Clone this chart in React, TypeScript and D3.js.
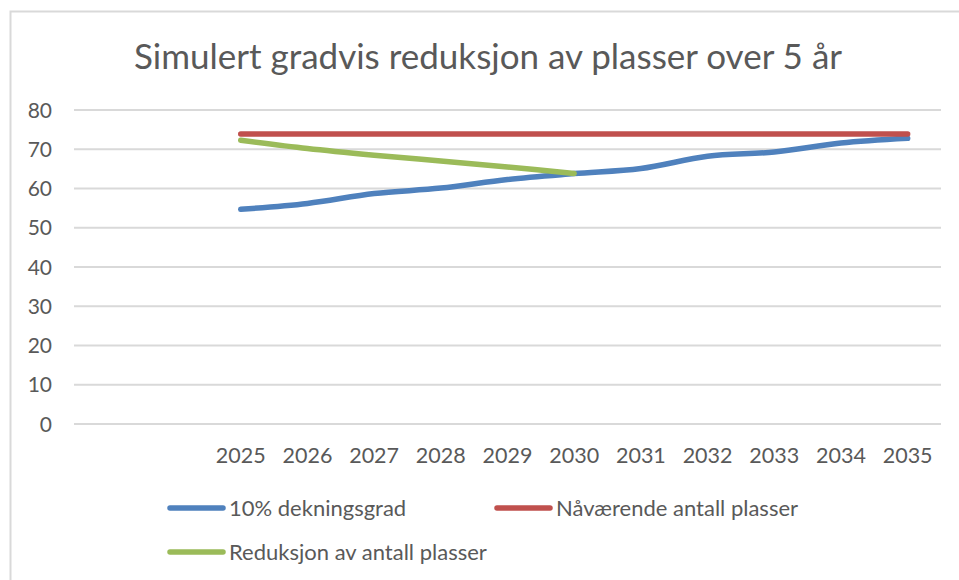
import * as d3 from "d3";
import React, { useRef, useEffect } from "react";

const categories = ["", " ", "2025", "2026", "2027", "2028", "2029", "2030", "2031", "2032", "2033", "2034", "2035"];
const years = ["2025", "2026", "2027", "2028", "2029", "2030", "2031", "2032", "2033", "2034", "2035"];
const dekningsgrad = [54.7, 56.2, 58.7, 60.1, 62.3, 63.8, 65.1, 68.2, 69.3, 71.6, 72.8];
const navaerende = [73.9, 73.9, 73.9, 73.9, 73.9, 73.9, 73.9, 73.9, 73.9, 73.9, 73.9];
const reduksjon = [72.3, 70.2, 68.5, 67.0, 65.5, 63.8];
const yTicks = [0, 10, 20, 30, 40, 50, 60, 70, 80];

const series = [
  { name: "10% dekningsgrad", color: "#4f81bd", values: dekningsgrad },
  { name: "Nåværende antall plasser", color: "#c0504d", values: navaerende },
  { name: "Reduksjon av antall plasser", color: "#9bbb59", values: reduksjon },
];

const width = 959;
const height = 580;
const margin = { top: 110, bottom: 156, left: 74, right: 18 };
const font = "Lato, 'Open Sans', sans-serif";
const textColor = "#595959";

function LineChart() {
  const ref = useRef<SVGSVGElement>(null);

  useEffect(() => {
    draw();
  }, []);

  const draw = () => {
    const svg = d3.select(ref.current);
    svg.selectAll("*").remove();
    const innerWidth = width - margin.left - margin.right;
    const innerHeight = height - margin.top - margin.bottom;

    // chart frame (only top and left edges are visible in the crop)
    svg.append("path")
      .attr("d", `M10.5,${height} V11.5 H${width}`)
      .attr("fill", "none")
      .attr("stroke", "#d9d9d9")
      .attr("stroke-width", 2);

    svg.append("text")
      .attr("x", 488)
      .attr("y", 69)
      .attr("text-anchor", "middle")
      .attr("fill", textColor)
      .style("font-family", font)
      .style("font-size", "35px")
      .text("Simulert gradvis reduksjon av plasser over 5 år");

    const chart = svg.append("g").attr("transform", `translate(${margin.left},${margin.top})`);

    const xScale = d3.scaleBand().domain(categories).range([0, innerWidth]);
    const yScale = d3.scaleLinear().domain([0, 80]).range([innerHeight, 0]);
    const xPos = (c: string) => (xScale(c) as number) + xScale.bandwidth() / 2;

    chart.selectAll(".grid")
      .data(yTicks)
      .join("line")
      .classed("grid", true)
      .attr("x1", 0)
      .attr("x2", innerWidth)
      .attr("y1", (d) => yScale(d))
      .attr("y2", (d) => yScale(d))
      .attr("stroke", "#d9d9d9")
      .attr("stroke-width", 2);

    chart.selectAll(".y-label")
      .data(yTicks)
      .join("text")
      .classed("y-label", true)
      .attr("x", -22)
      .attr("y", (d) => yScale(d))
      .attr("dy", "0.36em")
      .attr("text-anchor", "end")
      .attr("fill", textColor)
      .style("font-family", font)
      .style("font-size", "21px")
      .text((d) => d);

    chart.selectAll(".x-label")
      .data(categories)
      .join("text")
      .classed("x-label", true)
      .attr("x", (d) => xPos(d))
      .attr("y", innerHeight + 31)
      .attr("dy", "0.36em")
      .attr("text-anchor", "middle")
      .attr("fill", textColor)
      .style("font-family", font)
      .style("font-size", "21.5px")
      .text((d) => d.trim());

    const line = d3.line<number>()
      .x((d, i) => xPos(years[i]))
      .y((d) => yScale(d))
      .curve(d3.curveCatmullRom.alpha(0.5));

    chart.selectAll(".series")
      .data(series)
      .join("path")
      .classed("series", true)
      .attr("d", (d) => line(d.values))
      .attr("fill", "none")
      .attr("stroke", (d) => d.color)
      .attr("stroke-width", 5.5)
      .attr("stroke-linecap", "round")
      .attr("stroke-linejoin", "round");

    // legend
    const legendPos = [
      { x: 170, y: 508 },
      { x: 497, y: 508 },
      { x: 170, y: 552 },
    ];
    const legend = svg.selectAll(".legend")
      .data(series)
      .join("g")
      .classed("legend", true)
      .attr("transform", (d, i) => `translate(${legendPos[i].x},${legendPos[i].y})`);
    legend.append("line")
      .attr("x1", 0)
      .attr("x2", 53)
      .attr("stroke", (d) => d.color)
      .attr("stroke-width", 5.5)
      .attr("stroke-linecap", "round");
    legend.append("text")
      .attr("x", 59)
      .attr("dy", "0.36em")
      .attr("fill", textColor)
      .style("font-family", font)
      .style("font-size", "22px")
      .text((d) => d.name);
  };

  return (
    <svg
      ref={ref}
      width={width}
      height={height}
      style={{ position: "absolute", left: 0, top: 0, background: "#fff" }}
    ></svg>
  );
}

export default function App() {
  return <LineChart />;
}
